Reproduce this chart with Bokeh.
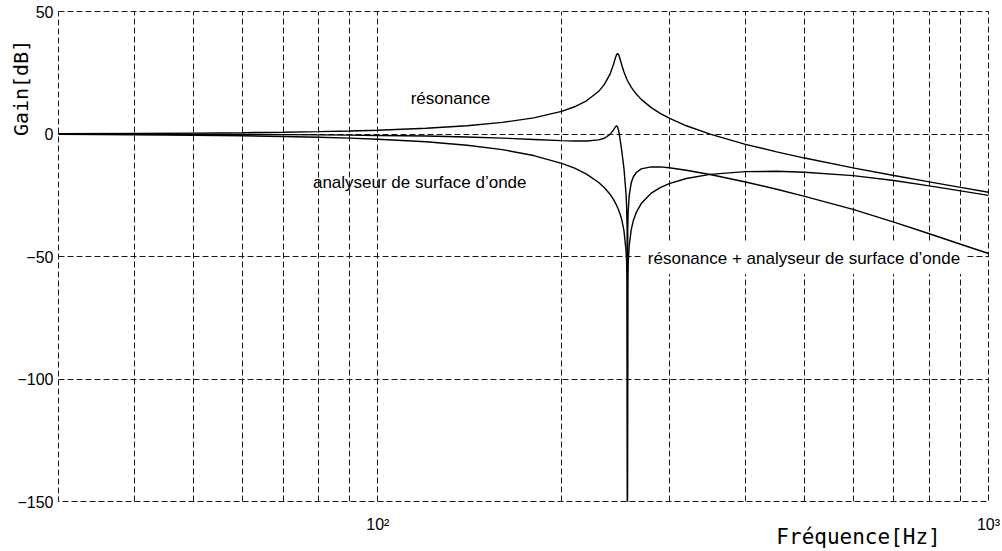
from bokeh.plotting import figure
from bokeh.models import Range1d, FixedTicker, Label, LinearAxis, LogAxis
from bokeh.embed import file_html
from bokeh.resources import INLINE

# ---- data (frequency in Hz, gains in dB) ----
freq_hz = [30, 40, 50, 60, 70, 80, 90, 100, 120, 140, 160, 180, 200, 210, 220,
           230, 235, 240, 243, 245, 246, 247, 248, 249, 250, 251, 253, 255,
           255.5, 256, 256.3, 256.6, 257, 258, 260, 262, 265, 270, 280, 290,
           300, 320, 350, 400, 450, 500, 600, 700, 800, 900, 1000]

gain_resonance_db = [0.13, 0.23, 0.36, 0.53, 0.73, 0.96, 1.24, 1.56, 2.34, 3.37,
                     4.73, 6.57, 9.25, 11.12, 13.65, 17.42, 20.24, 24.43, 28.14,
                     31.15, 32.38, 32.87, 32.31, 31.03, 29.48, 27.96, 25.29, 23.11,
                     22.63, 22.17, 21.91, 21.65, 21.32, 20.53, 19.12, 17.89, 16.31,
                     14.13, 10.87, 8.42, 6.45, 3.36, -0.07, -4.21, -7.31, -9.82,
                     -13.81, -16.94, -19.55, -21.78, -23.75]

gain_analyseur_db = [-0.15, -0.3, -0.49, -0.71, -0.99, -1.31, -1.69, -2.14, -3.16,
                     -4.58, -6.39, -8.80, -11.96, -13.96, -16.50, -19.81, -21.97,
                     -24.59, -26.60, -28.19, -29.07, -30.04, -31.12, -32.31, -33.68,
                     -35.25, -39.54, -47.80, -52.06, -60.6, -150.0, -60.6, -53.24,
                     -45.61, -39.03, -35.44, -32.02, -28.39, -24.27, -21.86, -20.24,
                     -18.15, -16.46, -15.36, -15.23, -15.64, -16.97, -19.0, -21.17,
                     -23.22, -25.04]

gain_combine_db = [-0.02, -0.07, -0.13, -0.18, -0.26, -0.35, -0.45, -0.59, -0.82,
                   -1.21, -1.67, -2.23, -2.71, -2.84, -2.85, -2.39, -1.73, -0.16,
                   1.54, 2.96, 3.31, 2.83, 1.19, -1.28, -4.20, -7.29, -14.25, -24.69,
                   -29.43, -38.43, -150.0, -38.95, -31.92, -25.08, -19.91, -17.55,
                   -15.71, -14.26, -13.40, -13.44, -13.79, -14.79, -16.53, -19.57,
                   -22.54, -25.46, -30.78, -35.94, -40.72, -45.00, -48.79]

y_ticks = [50, 0, -50, -100, -150]
x_grid_ticks = [30, 40, 50, 60, 70, 80, 90, 100, 200, 300, 400, 500, 600, 700,
                800, 900, 1000]
x_tick_values = [100, 1000]
x_tick_labels = ["10\u00b2", "10\u00b3"]

y_title = "Gain[dB]"
x_title = "Fréquence[Hz]"
NBSP = "\u00a0"

GRID = "#1a1a1a"
DASH = "6 3"
FONT = "Liberation Sans"
MONO = "DejaVu Sans Mono"

p = figure(width=1002, height=551, x_axis_type="log",
           x_range=Range1d(30, 1000), y_range=Range1d(-150, 50),
           output_backend="svg", toolbar_location=None,
           min_border_left=58, min_border_right=14, min_border_top=11,
           min_border_bottom=47)

p.background_fill_color = "white"
p.border_fill_color = "white"
p.outline_line_color = GRID
p.outline_line_dash = DASH
p.outline_line_width = 1

# x axis: decade labels only
p.xaxis.ticker = FixedTicker(ticks=x_tick_values, minor_ticks=[])
p.xaxis.major_label_overrides = dict(zip(x_tick_values, x_tick_labels))
p.xaxis.axis_line_color = None
p.xaxis.major_tick_line_color = None
p.xaxis.minor_tick_line_color = None
p.xaxis.major_tick_out = 0
p.xaxis.major_tick_in = 0
p.xaxis.minor_tick_out = 0
p.xaxis.major_label_standoff = 14
p.xaxis.major_label_text_font = FONT
p.xaxis.major_label_text_font_size = "16px"
p.xaxis.major_label_text_color = "black"
p.xgrid.ticker = FixedTicker(ticks=x_grid_ticks)

p.yaxis.ticker = FixedTicker(ticks=y_ticks, minor_ticks=[])
p.yaxis.axis_line_color = None
p.yaxis.major_tick_line_color = None
p.yaxis.minor_tick_line_color = None
p.yaxis.major_tick_out = 0
p.yaxis.major_tick_in = 0
p.yaxis.minor_tick_out = 0
p.yaxis.major_label_standoff = 5
p.yaxis.major_label_text_font = FONT
p.yaxis.major_label_text_font_size = "16px"
p.yaxis.major_label_text_color = "black"

for g in (p.xgrid, p.ygrid):
    g.grid_line_color = GRID
    g.grid_line_dash = DASH
    g.grid_line_width = 1
    g.grid_line_alpha = 1.0

# label-only axes; the titles sit off-centre as in the reference
ylab_axis = LinearAxis(axis_label=NBSP * 28 + y_title,
                       ticker=FixedTicker(ticks=[], minor_ticks=[]),
                       axis_line_color=None, major_tick_line_color=None,
                       minor_tick_line_color=None, major_tick_out=0,
                       major_tick_in=0, minor_tick_out=0,
                       major_label_text_font_size="0px",
                       axis_label_text_font=MONO,
                       axis_label_text_font_size="20px",
                       axis_label_text_font_style="normal",
                       axis_label_text_color="black",
                       axis_label_standoff=-18)
p.add_layout(ylab_axis, "left")

xlab_axis = LogAxis(axis_label=NBSP * 53 + x_title,
                    ticker=FixedTicker(ticks=[], minor_ticks=[]),
                    axis_line_color=None, major_tick_line_color=None,
                    minor_tick_line_color=None, major_tick_out=0,
                    major_tick_in=0, minor_tick_out=0,
                    major_label_text_font_size="0px",
                    axis_label_text_font=MONO,
                    axis_label_text_font_size="21px",
                    axis_label_text_font_style="normal",
                    axis_label_text_color="black",
                    axis_label_standoff=-11)
p.add_layout(xlab_axis, "below")

curves = [gain_resonance_db, gain_analyseur_db, gain_combine_db]
for gain in curves:
    r = p.line(freq_hz, gain, line_color="black", line_width=1.4)
    r.level = "overlay"

p.add_layout(Label(x=113.2, y=14.5, text="résonance", text_font=FONT,
                   text_font_size="17px", text_baseline="middle",
                   text_align="left", text_color="black"))
p.add_layout(Label(x=78.3, y=-19.9, text="analyseur de surface d\u2019onde",
                   text_font=FONT, text_font_size="17px",
                   text_baseline="middle", text_align="left",
                   text_color="black"))
p.add_layout(Label(x=270.6, y=-50.8,
                   text="résonance + analyseur de surface d\u2019onde",
                   text_font=FONT, text_font_size="17px",
                   text_baseline="middle", text_align="left",
                   text_color="black", background_fill_color="white",
                   padding=6))

open("out.html", "w").write(file_html(p, INLINE))
